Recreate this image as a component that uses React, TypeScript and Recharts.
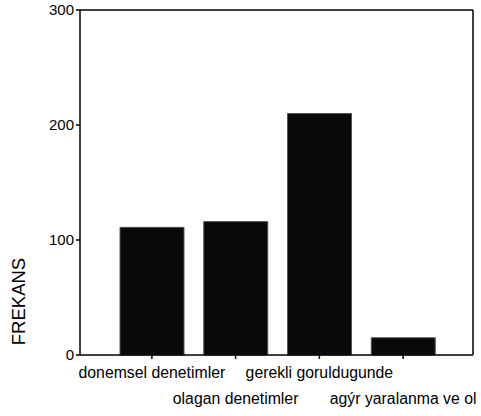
import React from "react";
import { Bar, BarChart, XAxis, YAxis, Label } from "recharts";

const categories = [
  "donemsel denetimler",
  "olagan denetimler",
  "gerekli goruldugunde",
  "agýr yaralanma ve ol",
];
const frekans = [111, 116, 210, 15];
const yTicks = [0, 100, 200, 300];

const data = categories.map((name, i) => ({ name, frekans: frekans[i] }));

const font = "Arial, 'Liberation Sans', sans-serif";

const CategoryTick = (props: any) => {
  const { x, y, payload, index } = props;
  const row = index % 2;
  return (
    <text
      x={x}
      y={y}
      dy={row === 0 ? 17 : 43}
      textAnchor="middle"
      fontFamily={font}
      fontSize={15.8}
      fill="#000"
    >
      {payload.value}
    </text>
  );
};

export default function App() {
  return (
    <div style={{ position: "absolute", left: 0, top: 0, width: 481, height: 416, background: "#fff" }}>
      <BarChart
        width={481}
        height={416}
        data={data}
        barSize={64}
        margin={{ top: 9, right: 7, bottom: 6, left: 20 }}
      >
        <XAxis
          dataKey="name"
          interval={0}
          height={55}
          padding={{ left: 30, right: 28 }}
          axisLine={{ stroke: "#000", strokeWidth: 1.5 }}
          tickLine={{ stroke: "#000", strokeWidth: 1.5 }}
          tickSize={4}
          tick={<CategoryTick />}
        />
        <XAxis
          xAxisId="top"
          dataKey="name"
          orientation="top"
          height={1}
          tick={false}
          tickLine={false}
          axisLine={{ stroke: "#000", strokeWidth: 1.5 }}
        />
        <YAxis
          domain={[0, 300]}
          ticks={yTicks}
          width={60}
          axisLine={{ stroke: "#000", strokeWidth: 1.5 }}
          tickLine={{ stroke: "#000", strokeWidth: 1.5 }}
          tickSize={4}
          tick={{ fill: "#000", fontSize: 15, fontFamily: font }}
        >
          <Label
            value="FREKANS"
            angle={-90}
            position="insideLeft"
            offset={-2}
            dy={119}
            style={{ fill: "#000", fontSize: 18.5, fontFamily: font, textAnchor: "middle" }}
          />
        </YAxis>
        <YAxis
          yAxisId="right"
          orientation="right"
          domain={[0, 300]}
          width={1}
          tick={false}
          tickLine={false}
          axisLine={{ stroke: "#000", strokeWidth: 1.5 }}
        />
        <Bar dataKey="frekans" fill="#0a0a0a" stroke="#555" strokeWidth={1} isAnimationActive={false} />
      </BarChart>
    </div>
  );
}
